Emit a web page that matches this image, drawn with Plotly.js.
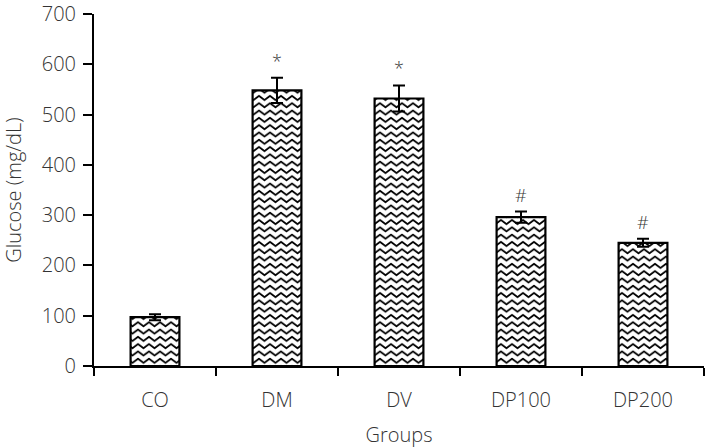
<!DOCTYPE html>
<html>
<head>
<meta charset="utf-8">
<script src="https://cdn.plot.ly/plotly-3.0.1.min.js"></script>
<style>html,body{margin:0;padding:0;background:#fff;}#chart{width:709px;height:448px;}</style>
</head>
<body>
<div id="chart"></div>
<script>
// ---- data ----
var groups = ["CO", "DM", "DV", "DP100", "DP200"];
var glucose = [97, 548, 532, 296, 245];
var glucoseErr = [6, 25, 26, 11, 8];
var marks = ["", "*", "*", "#", "#"];
var yTicks = [0, 100, 200, 300, 400, 500, 600, 700];

var fontFam = "'Open Sans', 'Noto Sans', sans-serif";
var txtColor = "#333333";
var fs = 20;

var trace = {
  type: "bar",
  x: groups,
  y: glucose,
  width: 0.4,
  marker: {color: "#ffffff", line: {color: "#000000", width: 2.2}},
  error_y: {type: "data", array: glucoseErr, visible: true, color: "#000000", thickness: 2, width: 6},
  hoverinfo: "none"
};

var annotations = [];
for (var i = 0; i < groups.length; i++) {
  if (marks[i]) {
    annotations.push({
      x: groups[i], y: glucose[i] + glucoseErr[i], xref: "x", yref: "y",
      text: marks[i], showarrow: false, yanchor: "bottom", yshift: 3,
      font: {family: fontFam, size: 18, color: txtColor, weight: 300}
    });
  }
}

var layout = {
  width: 709, height: 448,
  margin: {l: 94, r: 5, t: 14, b: 82},
  paper_bgcolor: "#ffffff", plot_bgcolor: "#ffffff",
  showlegend: false,
  font: {family: fontFam, color: txtColor, size: fs, weight: 300},
  xaxis: {
    type: "category",
    range: [-0.5, 4.5],
    tickson: "boundaries",
    ticks: "outside", ticklen: 8, tickwidth: 2, tickcolor: "#000",
    ticklabelstandoff: 15,
    showline: true, linecolor: "#000", linewidth: 2,
    showgrid: false, zeroline: false,
    tickfont: {family: fontFam, size: fs, color: txtColor, weight: 300},
    title: {text: "Groups", standoff: 18, font: {family: fontFam, size: fs, color: txtColor, weight: 300}}
  },
  yaxis: {
    range: [0, 700],
    tickvals: yTicks,
    ticktext: yTicks.map(String),
    ticks: "outside", ticklen: 9, tickwidth: 2, tickcolor: "#000",
    ticklabelstandoff: 3,
    showline: true, linecolor: "#000", linewidth: 2,
    showgrid: false, zeroline: false,
    tickfont: {family: fontFam, size: fs, color: txtColor, weight: 300},
    title: {text: "Glucose (mg/dL)", standoff: 16, font: {family: fontFam, size: fs, color: txtColor, weight: 300}}
  },
  annotations: annotations
};

Plotly.newPlot("chart", [trace], layout, {staticPlot: true}).then(function (gd) {
  // zigzag fill pattern applied to the library-drawn bars
  var svg = gd.querySelector("svg.main-svg");
  var NS = "http://www.w3.org/2000/svg";
  var defs = svg.querySelector("defs") || svg.insertBefore(document.createElementNS(NS, "defs"), svg.firstChild);
  var W = 11, H = 7.3;
  var pat = document.createElementNS(NS, "pattern");
  pat.setAttribute("id", "zigzagFill");
  pat.setAttribute("patternUnits", "userSpaceOnUse");
  pat.setAttribute("width", String(W));
  pat.setAttribute("height", String(H));
  var bg = document.createElementNS(NS, "rect");
  bg.setAttribute("width", String(W)); bg.setAttribute("height", String(H)); bg.setAttribute("fill", "#fff");
  pat.appendChild(bg);
  var p = document.createElementNS(NS, "path");
  p.setAttribute("d", "M" + (-W / 4) + ",3.65 L0,1.6 L" + (W / 2) + ",5.7 L" + W + ",1.6 L" + (W * 1.25) + ",3.65");
  p.setAttribute("fill", "none"); p.setAttribute("stroke", "#000"); p.setAttribute("stroke-width", "1.9");
  p.setAttribute("stroke-linejoin", "round");
  pat.appendChild(p);
  defs.appendChild(pat);
  gd.querySelectorAll(".barlayer .point path").forEach(function (el) {
    el.style.fill = "url(#zigzagFill)";
    el.style.fillOpacity = 1;
  });
});
</script>
</body>
</html>
